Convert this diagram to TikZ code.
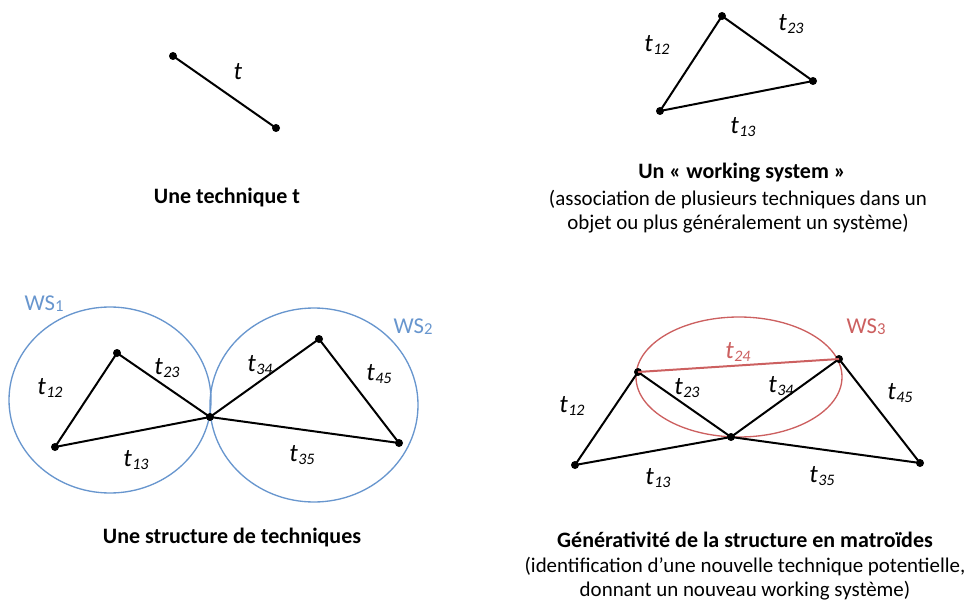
\documentclass[tikz,border=0pt]{standalone}
\usepackage{fontspec}
\setmainfont{Carlito}
\definecolor{wsblue}{RGB}{104,150,206}
\definecolor{wsred}{RGB}{204,96,96}
\newcommand\tlab[1]{\textit{t}\kern0.3pt\raisebox{-0.2ex}{\fontsize{12}{14}\selectfont\itshape #1}}
\tikzset{
  ptdot/.style={circle,fill=black,inner sep=0pt,minimum size=6pt},
  seg/.style={line width=1.5pt,black},
  tlabel/.style={font=\fontsize{19}{22}\selectfont,inner sep=0pt},
  capt/.style={font=\fontsize{16.5}{19}\selectfont\bfseries,inner sep=0pt},
  subcapt/.style={font=\fontsize{15.7}{18}\selectfont,align=center,inner sep=0pt},
  wsline/.style={line width=1pt},
  wslabel/.style={font=\fontsize{17}{20}\selectfont,inner sep=0pt},
}
\begin{document}
\begin{tikzpicture}[x=0.75pt,y=-0.75pt]
\useasboundingbox (0,0) rectangle (970,602);
% Top-left: one technique
\node[ptdot] (a1) at (173,56) {};
\node[ptdot] (a2) at (276,128) {};
\draw[seg] (a1.center) -- (a2.center);
\node[tlabel] (lt) at (238,72) {\textit{t}};
\node[capt] (c1) at (227,198) {Une technique t};
% Top-right: working system
\node[ptdot] (b1) at (722,16) {};
\node[ptdot] (b2) at (813,81) {};
\node[ptdot] (b3) at (660,111) {};
\draw[seg] (b1.center) -- (b2.center) -- (b3.center) -- cycle;
\node[tlabel] (lb12) at (657,45) {\tlab{12}};
\node[tlabel] (lb23) at (791,24) {\tlab{23}};
\node[tlabel] (lb13) at (743,127) {\tlab{13}};
\node[capt] (c2) at (742,173) {Un « working system »};
\node[subcapt] (s2) at (738,212) {(association de plusieurs techniques dans un\\objet ou plus généralement un système)};
% Bottom-left: structure
\draw[wsline,wsblue] (110,400) ellipse [x radius=101, y radius=93];
\draw[wsline,wsblue] (314,405) ellipse [x radius=104, y radius=97];
\node[ptdot] (p1) at (55,447) {};
\node[ptdot] (p2) at (117,353) {};
\node[ptdot] (p3) at (210,417) {};
\node[ptdot] (p4) at (319,339) {};
\node[ptdot] (p5) at (399,443) {};
\draw[seg] (p1.center) -- (p2.center) -- (p3.center) -- (p1.center);
\draw[seg] (p3.center) -- (p4.center) -- (p5.center) -- (p3.center);
\node[tlabel] (lp12) at (50,388) {\tlab{12}};
\node[tlabel] (lp23) at (167,368) {\tlab{23}};
\node[tlabel] (lp13) at (136,460) {\tlab{13}};
\node[tlabel] (lp34) at (260,365) {\tlab{34}};
\node[tlabel] (lp45) at (379,374) {\tlab{45}};
\node[tlabel] (lp35) at (302,455) {\tlab{35}};
\node[wslabel,text=wsblue] (ws1) at (44,304) {WS\raisebox{-0.1ex}{\fontsize{12.5}{14}\selectfont 1}};
\node[wslabel,text=wsblue] (ws2) at (413,327) {WS\raisebox{-0.1ex}{\fontsize{12.5}{14}\selectfont 2}};
\node[capt] (c3) at (232,538) {Une structure de techniques};
% Bottom-right: generativity
\draw[wsline,wsred] (739,377) ellipse [x radius=103, y radius=60];
\node[ptdot] (q1) at (575,465) {};
\node[ptdot] (q2) at (638,372) {};
\node[ptdot] (q3) at (731,437) {};
\node[ptdot] (q4) at (839,359) {};
\node[ptdot] (q5) at (920,463) {};
\draw[seg] (q1.center) -- (q2.center) -- (q3.center) -- (q1.center);
\draw[seg] (q3.center) -- (q4.center) -- (q5.center) -- (q3.center);
\draw[line width=1.5pt,wsred] (q2.center) -- (q4.center);
\node[tlabel,text=wsred] (lq24) at (738,352) {\tlab{24}};
\node[tlabel] (lq12) at (572,406) {\tlab{12}};
\node[tlabel] (lq23) at (687,388) {\tlab{23}};
\node[tlabel] (lq34) at (781,386) {\tlab{34}};
\node[tlabel] (lq45) at (900,393) {\tlab{45}};
\node[tlabel] (lq13) at (658,478) {\tlab{13}};
\node[tlabel] (lq35) at (822,476) {\tlab{35}};
\node[wslabel,text=wsred] (ws3) at (866,327) {WS\raisebox{-0.1ex}{\fontsize{12.5}{14}\selectfont 3}};
\node[capt] (c4) at (745,540) {Générativité de la structure en matroïdes};
\node[subcapt] (s4) at (745,579) {(identification d’une nouvelle technique potentielle,\\donnant un nouveau working système)};
\end{tikzpicture}
\end{document}
